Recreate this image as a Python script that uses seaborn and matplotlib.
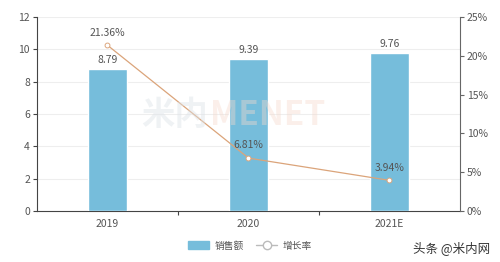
import matplotlib
matplotlib.use("Agg")
import matplotlib.pyplot as plt
import seaborn as sns
import pandas as pd
from matplotlib.lines import Line2D
from matplotlib.patches import Patch

categories = ["2019", "2020", "2021E"]
sales = [8.79, 9.39, 9.76]
growth = [21.36, 6.81, 3.94]
sales_labels = ["8.79", "9.39", "9.76"]
growth_labels = ["21.36%", "6.81%", "3.94%"]
left_ticks = [0, 2, 4, 6, 8, 10, 12]
right_ticks = [0, 5, 10, 15, 20, 25]

sns.set_theme(style="white")
plt.rcParams['font.family'] = ['Noto Sans CJK SC', 'DejaVu Sans']

df = pd.DataFrame({"cat": categories, "sales": sales, "growth": growth})

bar_color = "#76bddb"
line_color = "#dba47a"
text_color = "#555555"

fig = plt.figure(figsize=(5, 2.62), dpi=100)
ax = fig.add_axes([0.074, 0.195, 0.846, 0.74])

sns.barplot(data=df, x="cat", y="sales", color=bar_color, saturation=1,
            width=0.27, ax=ax, zorder=3)
ax.set_ylim(0, 12)
ax.set_yticks(left_ticks)
ax.set_xlim(-0.5, 2.5)
for y in left_ticks[1:]:
    ax.axhline(y, color="#eeeeee", lw=0.8, zorder=0)
for i, v in enumerate(sales):
    ax.text(i, v + 0.25, sales_labels[i], ha="center", va="bottom",
            fontsize=7.5, color=text_color, zorder=6)

ax2 = ax.twinx()
sns.pointplot(data=df, x="cat", y="growth", color=line_color, ax=ax2,
              markers="o", markersize=3.5, linewidth=0.9,
              markerfacecolor="white", markeredgecolor=line_color, zorder=5)
ax2.set_ylim(0, 25)
ax2.set_yticks(right_ticks)
ax2.set_yticklabels([f"{t}%" for t in right_ticks])
ax2.set_xlim(-0.5, 2.5)
for i, v in enumerate(growth):
    ax2.text(i, v + 1.0, growth_labels[i], ha="center", va="bottom",
             fontsize=7.5, color=text_color, zorder=6)

ax.set_xlabel("")
ax.set_ylabel("")
ax2.set_xlabel("")
ax2.set_ylabel("")

for a in (ax, ax2):
    for s in a.spines.values():
        s.set_visible(False)
ax.spines["left"].set_visible(True)
ax.spines["left"].set_color("#444444")
ax.spines["left"].set_linewidth(0.8)
ax.spines["bottom"].set_visible(True)
ax.spines["bottom"].set_color("#444444")
ax.spines["bottom"].set_linewidth(0.8)
ax2.spines["right"].set_visible(True)
ax2.spines["right"].set_color("#666666")
ax2.spines["right"].set_linewidth(0.8)

ax.tick_params(axis="y", length=3, width=0.8, color="#444444", labelsize=7.5,
               labelcolor=text_color, pad=2, left=True)
ax.tick_params(axis="x", length=0, labelsize=7.5, labelcolor=text_color, pad=6)
ax.set_xticks([0.5, 1.5], minor=True)
ax.tick_params(axis="x", which="minor", length=3, width=0.8, color="#444444", bottom=True)
ax2.tick_params(axis="y", length=3, width=0.8, color="#666666", labelsize=7.5,
                labelcolor=text_color, pad=2, right=True)

# watermark
fig.text(0.415, 0.56, "米内", fontsize=24, color="#dde3e8", alpha=0.45,
         ha="right", va="center", fontweight="bold", zorder=0)
fig.text(0.42, 0.56, "MENET", fontsize=24, color="#f5d9cc", alpha=0.4,
         ha="left", va="center", fontweight="bold", zorder=0)

handles = [Patch(facecolor=bar_color, edgecolor=bar_color),
           Line2D([0], [0], color="#bbbbbb", lw=1, marker="o", markersize=6,
                  markerfacecolor="white", markeredgecolor="#bbbbbb")]
fig.legend(handles, ["销售额", "增长率"], loc="center", bbox_to_anchor=(0.5, 0.062),
           ncol=2, frameon=False, fontsize=7, handlelength=2.2, handleheight=0.9,
           columnspacing=1.2, handletextpad=0.6, labelcolor=text_color)

fig.text(0.98, 0.055, "头条 @米内网", fontsize=9, color="#333333", ha="right", va="center")

fig.savefig("out.png", dpi=100)
